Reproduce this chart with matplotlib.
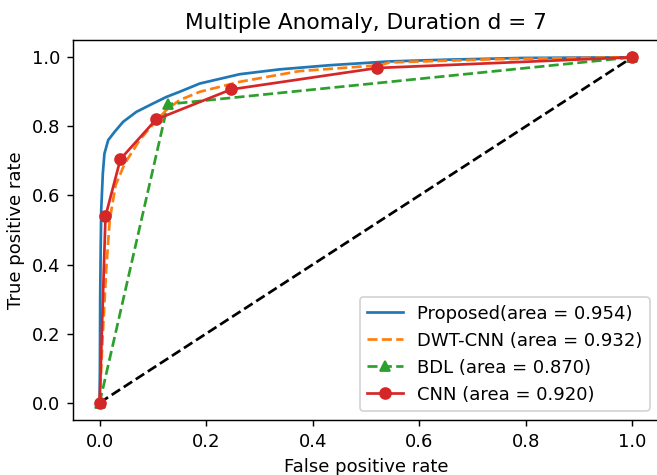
import matplotlib
matplotlib.use("Agg")
import matplotlib.pyplot as plt

# ROC curves, multiple anomaly, duration d = 7
proposed_fpr = [0.0, 0.0005, 0.001, 0.002, 0.003, 0.006, 0.009, 0.016, 0.028, 0.044,
                0.069, 0.1, 0.125, 0.15, 0.188, 0.263, 0.338, 0.432, 0.544, 0.65,
                0.794, 0.9, 1.0]
proposed_tpr = [0.0, 0.1, 0.3, 0.45, 0.56, 0.664, 0.721, 0.76, 0.784, 0.813,
                0.842, 0.866, 0.885, 0.9, 0.924, 0.951, 0.965, 0.977, 0.988, 0.993,
                0.998, 0.999, 1.0]

dwt_fpr = [0.0, 0.003, 0.006, 0.0125, 0.019, 0.03, 0.047, 0.075, 0.097, 0.125,
           0.15, 0.188, 0.263, 0.375, 0.526, 0.544, 0.732, 0.9, 1.0]
dwt_tpr = [0.0, 0.1, 0.2, 0.39, 0.53, 0.63, 0.692, 0.76, 0.8, 0.847,
           0.876, 0.9, 0.929, 0.96, 0.977, 0.985, 0.994, 0.998, 1.0]

bdl_fpr = [0.0, 0.128, 1.0]
bdl_tpr = [0.0, 0.864, 1.0]

cnn_fpr = [0.0, 0.011, 0.039, 0.106, 0.247, 0.521, 1.0]
cnn_tpr = [0.0, 0.54, 0.705, 0.82, 0.907, 0.969, 1.0]

labels = ["Proposed(area = 0.954)", "DWT-CNN (area = 0.932)",
          "BDL (area = 0.870)", "CNN (area = 0.920)"]

fig = plt.figure(figsize=(657 / 130, 475 / 130), dpi=130)
ax = fig.add_axes([73 / 657, 55 / 475, 586 / 657, 380 / 475])

ax.plot([0, 1], [0, 1], "k--", zorder=1)
ax.plot(proposed_fpr, proposed_tpr, color="C0", linestyle="-", label=labels[0], zorder=2)
ax.plot(dwt_fpr, dwt_tpr, color="C1", linestyle="--", label=labels[1], zorder=3)
ax.plot(bdl_fpr, bdl_tpr, color="C2", linestyle="--", marker="^", label=labels[2], zorder=4)
ax.plot(cnn_fpr, cnn_tpr, color="C3", linestyle="-", marker="o", label=labels[3], zorder=5)

ax.set_xlabel("False positive rate")
ax.set_ylabel("True positive rate")
ax.set_title("Multiple Anomaly, Duration d = 7")
ax.legend(loc="lower right")

fig.savefig("out.png", dpi=130)
